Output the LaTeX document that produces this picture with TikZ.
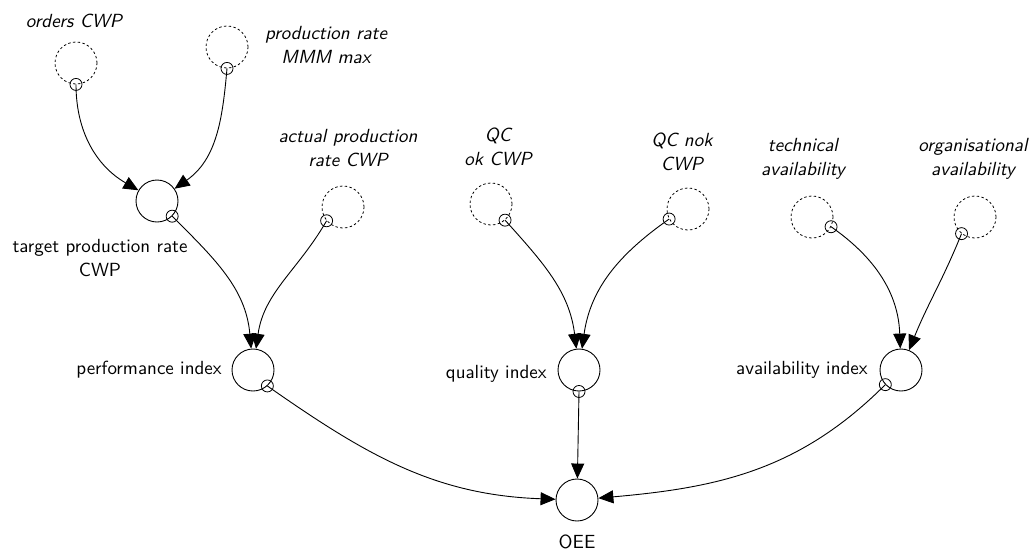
\documentclass[tikz,border=0pt]{standalone}
\usetikzlibrary{arrows.meta}
\begin{document}
\begin{tikzpicture}[x=0.5pt,y=0.5pt,
  font=\sffamily\fontsize{9.5}{12}\selectfont,
  var/.style={circle,draw,line width=0.45pt,minimum size=21pt,inner sep=0pt},
  extvar/.style={circle,draw,dash pattern=on 1.2pt off 1.2pt,line width=0.4pt,minimum size=21pt,inner sep=0pt},
  tap/.style={circle,draw,line width=0.4pt,minimum size=6pt,inner sep=0pt},
  lbl/.style={align=center,inner sep=0pt},
  extlbl/.style={lbl,font=\sffamily\itshape\fontsize{9.5}{12}\selectfont},
  link/.style={line width=0.45pt,-{Triangle[length=7.5pt,width=6.5pt]}}
]
\useasboundingbox (0,0) rectangle (1032,-554);

% external inputs (dashed) and auxiliaries (solid)
\node[extvar] (ord) at (76,-63) {};
\node[tap] (ordt) at (ord.-90) {};
\node[extlbl] (ordl) at (74,-21) {orders CWP};

\node[extvar] (pmax) at (227,-47) {};
\node[tap] (pmaxt) at (pmax.-90) {};
\node[extlbl] (pmaxl) at (326,-45) {production rate\\MMM max};

\node[var] (tpr) at (157,-201) {};
\node[tap] (tprt) at (tpr.-45) {};
\node[lbl] (tprl) at (100,-258) {target production rate\\CWP};

\node[extvar] (apr) at (343,-207) {};
\node[tap] (aprt) at (apr.-140) {};
\node[extlbl] (aprl) at (348,-148) {actual production\\rate CWP};

\node[var] (perf) at (253,-370) {};
\node[tap] (perft) at (perf.-48) {};
\node[lbl,anchor=east] (perfl) at (222,-370) {performance index};

\node[extvar] (qok) at (491,-204) {};
\node[tap] (qokt) at (qok.-49) {};
\node[extlbl] (qokl) at (498,-147) {QC\\ok CWP};

\node[extvar] (qnok) at (688,-209) {};
\node[tap] (qnokt) at (qnok.-152) {};
\node[extlbl] (qnokl) at (682,-152) {QC nok\\CWP};

\node[var] (qual) at (579,-370) {};
\node[tap] (qualt) at (qual.-90) {};
\node[lbl,anchor=east] (quall) at (547,-374) {quality index};

\node[extvar] (tech) at (812,-217) {};
\node[tap] (techt) at (tech.-27) {};
\node[extlbl] (techl) at (803,-159) {technical\\availability};

\node[extvar] (org) at (975,-217) {};
\node[tap] (orgt) at (org.-129) {};
\node[extlbl] (orgl) at (973,-159) {organisational\\availability};

\node[var] (avail) at (901,-370) {};
\node[tap] (availt) at (avail.-137) {};
\node[lbl,anchor=east] (availl) at (868,-370) {availability index};

\node[var] (oee) at (577,-500) {};
\node[lbl] (oeel) at (577,-542) {OEE};

% causal links
\draw[link] (ordt.center) to[out=-90,in=150] (tpr);
\draw[link] (pmaxt.center) to[out=-95,in=35] (tpr);
\draw[link] (tprt.center) to[out=-45,in=95] (perf);
\draw[link] (aprt.center) to[out=-120,in=82] (perf);
\draw[link] (perft.center) to[out=-35,in=178] (oee);
\draw[link] (qokt.center) to[out=-48,in=97] (qual);
\draw[link] (qnokt.center) to[out=-145,in=82] (qual);
\draw[link] (qualt.center) -- (oee);
\draw[link] (techt.center) to[out=-35,in=92] (avail);
\draw[link] (orgt.center) to[out=-112,in=68] (avail);
\draw[link] (availt.center) to[out=-135,in=5] (oee);
\end{tikzpicture}
\end{document}
